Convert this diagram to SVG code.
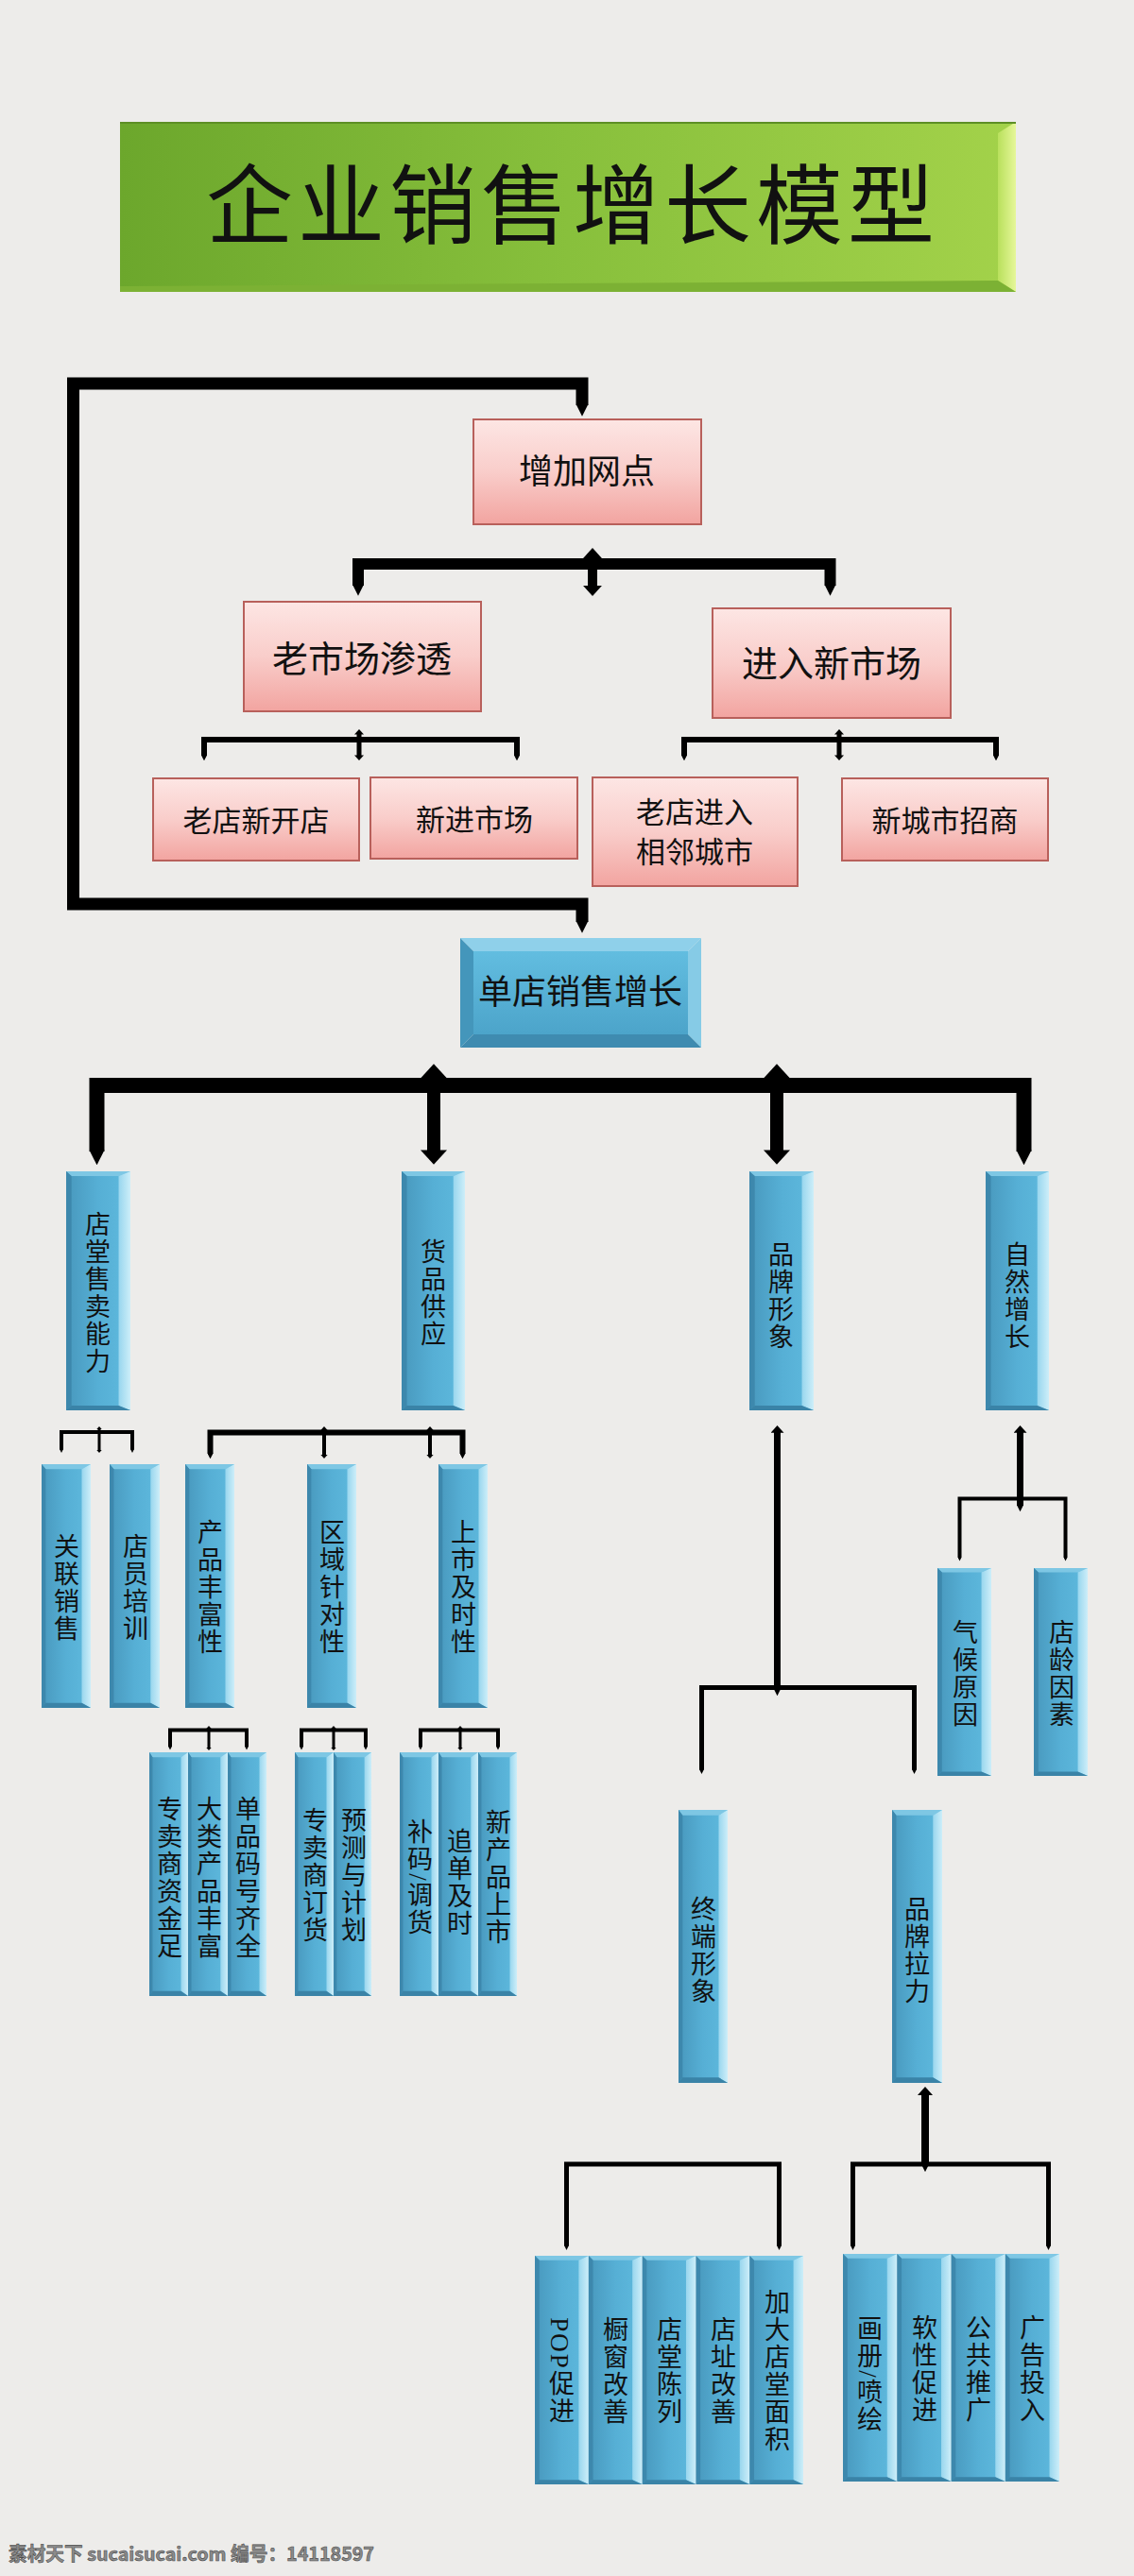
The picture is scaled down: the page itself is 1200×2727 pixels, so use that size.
<svg xmlns="http://www.w3.org/2000/svg" xmlns:xlink="http://www.w3.org/1999/xlink" width="1200" height="2727" viewBox="0 0 1200 2727">
<defs>
<style>
.t{font-family:"Liberation Serif","Noto Sans CJK SC",serif;fill:#111;text-anchor:middle;dominant-baseline:central}
.h{font-size:31px}
.v{font-family:"Liberation Serif","Noto Sans CJK SC",serif;fill:#111;font-size:27px;letter-spacing:2px;writing-mode:vertical-rl;text-anchor:middle}
.pk{fill:url(#pinkG);stroke:#b8605b;stroke-width:2}
.c{fill:none;stroke:#000;stroke-linejoin:miter}
</style>
<linearGradient id="pinkG" x1="0" y1="0" x2="0" y2="1">
<stop offset="0" stop-color="#fde6e4"/><stop offset="0.5" stop-color="#f9cdca"/><stop offset="1" stop-color="#f2a4a0"/>
</linearGradient>
<linearGradient id="greenG" x1="0" y1="0" x2="1" y2="0">
<stop offset="0" stop-color="#6ca72c"/><stop offset="0.5" stop-color="#88c03c"/><stop offset="1" stop-color="#a3d24a"/>
</linearGradient>
<linearGradient id="greenR" x1="0" y1="0" x2="1" y2="0">
<stop offset="0" stop-color="#b9e05c"/><stop offset="1" stop-color="#e6f79a"/>
</linearGradient>
<linearGradient id="bFace" x1="0" y1="0" x2="1" y2="0">
<stop offset="0" stop-color="#4898bd"/><stop offset="0.5" stop-color="#56afd5"/><stop offset="1" stop-color="#5fbade"/>
</linearGradient>
<linearGradient id="bRight" x1="0" y1="0" x2="1" y2="0">
<stop offset="0" stop-color="#98d6ee"/><stop offset="1" stop-color="#cdeef9"/>
</linearGradient>
<linearGradient id="bWide" x1="0" y1="0" x2="0" y2="1">
<stop offset="0" stop-color="#62bde0"/><stop offset="1" stop-color="#4ca4ca"/>
</linearGradient>
<symbol id="bcol" viewBox="0 0 60 250" preserveAspectRatio="none">
<rect width="60" height="250" fill="url(#bFace)"/>
<polygon points="0,0 60,0 49,5 5,5" fill="#7ec7e4"/>
<polygon points="0,0 5,5 5,245 0,250" fill="#3d88ad"/>
<polygon points="49,5 60,0 60,250 49,245" fill="url(#bRight)"/>
<polygon points="0,250 5,245 49,245 60,250" fill="#3a83a7"/>
</symbol>
<marker id="tp" viewBox="0 0 10 10" refX="1" refY="5" markerWidth="1" markerHeight="1" orient="auto-start-reverse" markerUnits="strokeWidth">
<path d="M0,0 L10,5 L0,10 z" fill="#000"/>
</marker>
<marker id="ah" viewBox="0 0 10 10" refX="1" refY="5" markerWidth="1.1" markerHeight="2" orient="auto-start-reverse" markerUnits="strokeWidth" preserveAspectRatio="none">
<path d="M0,0 L10,5 L0,10 z" fill="#000"/>
</marker>
</defs>
<rect width="1200" height="2727" fill="#edecea"/>

<g id="title">
<rect x="127" y="129" width="948" height="180" fill="url(#greenG)"/>
<polygon points="1056,141 1075,129 1075,309 1056,297" fill="url(#greenR)"/>
<polygon points="127,303 1056,297 1075,309 127,309" fill="#7cb134"/>
<rect x="127" y="129" width="948" height="2" fill="#5d8f25"/>
<text class="t" x="606" y="220" font-size="92" letter-spacing="5" fill="#000">企业销售增长模型</text>
</g>

<g id="connectors">
<path class="c" d="M616,429 V406 H77.5 V957 H616 V976" stroke-width="13" marker-start="url(#tp)" marker-end="url(#tp)"/>
<path class="c" d="M379,620 V597 H878.5 V620" stroke-width="12" marker-start="url(#tp)" marker-end="url(#tp)"/>
<path class="c" d="M627,590 V621" stroke-width="10" marker-start="url(#ah)" marker-end="url(#ah)"/>
<path class="c" d="M216,800 V783 H547 V800" stroke-width="6" marker-start="url(#tp)" marker-end="url(#tp)"/>
<path class="c" d="M380,777 V800" stroke-width="5" marker-start="url(#ah)" marker-end="url(#ah)"/>
<path class="c" d="M724,800 V783 H1054 V800" stroke-width="6" marker-start="url(#tp)" marker-end="url(#tp)"/>
<path class="c" d="M888,777 V800" stroke-width="5" marker-start="url(#ah)" marker-end="url(#ah)"/>
<path class="c" d="M102.5,1219 V1149 H1083.5 V1219" stroke-width="16" marker-start="url(#tp)" marker-end="url(#tp)"/>
<path class="c" d="M459,1140 V1219" stroke-width="14" marker-start="url(#ah)" marker-end="url(#ah)"/>
<path class="c" d="M822,1140 V1219" stroke-width="14" marker-start="url(#ah)" marker-end="url(#ah)"/>
<path class="c" d="M65,1534.4 V1516 H140 V1534.4" stroke-width="4" marker-start="url(#tp)" marker-end="url(#tp)"/>
<path class="c" d="M105,1513 V1535" stroke-width="3" marker-start="url(#ah)" marker-end="url(#ah)"/>
<path class="c" d="M222.5,1539 V1516.5 H489.5 V1539" stroke-width="6" marker-start="url(#tp)" marker-end="url(#tp)"/>
<path class="c" d="M343,1514 V1540" stroke-width="4" marker-start="url(#ah)" marker-end="url(#ah)"/>
<path class="c" d="M455,1514 V1540" stroke-width="4" marker-start="url(#ah)" marker-end="url(#ah)"/>
<path class="c" d="M822.5,1516 V1789" stroke-width="7" marker-start="url(#ah)" marker-end="url(#tp)"/>
<path class="c" d="M742.5,1873.5 V1786.5 H967.5 V1873.5" stroke-width="5" marker-start="url(#tp)" marker-end="url(#tp)"/>
<path class="c" d="M1079.5,1516 V1594" stroke-width="7" marker-start="url(#ah)" marker-end="url(#tp)"/>
<path class="c" d="M1015.5,1649 V1586.5 H1127.5 V1649" stroke-width="4" marker-start="url(#tp)" marker-end="url(#tp)"/>
<path class="c" d="M180,1849 V1831.5 H261 V1849" stroke-width="4" marker-start="url(#tp)" marker-end="url(#tp)"/>
<path class="c" d="M221,1830 V1850" stroke-width="3" marker-start="url(#ah)" marker-end="url(#ah)"/>
<path class="c" d="M319,1849 V1831.5 H387 V1849" stroke-width="4" marker-start="url(#tp)" marker-end="url(#tp)"/>
<path class="c" d="M353,1830 V1850" stroke-width="3" marker-start="url(#ah)" marker-end="url(#ah)"/>
<path class="c" d="M445,1849 V1831.5 H527 V1849" stroke-width="4" marker-start="url(#tp)" marker-end="url(#tp)"/>
<path class="c" d="M487,1830 V1850" stroke-width="3" marker-start="url(#ah)" marker-end="url(#ah)"/>
<path class="c" d="M599.5,2377.5 V2291 H824.5 V2377.5" stroke-width="5" marker-start="url(#tp)" marker-end="url(#tp)"/>
<path class="c" d="M902.5,2377.5 V2291 H1109.5 V2377.5" stroke-width="5" marker-start="url(#tp)" marker-end="url(#tp)"/>
<path class="c" d="M979,2217 V2292" stroke-width="8" marker-start="url(#ah)" marker-end="url(#tp)"/>
</g>

<g id="n-zengjiawangdian"><rect class="pk" x="501" y="444" width="241" height="111"/><text class="t" x="621" y="500" font-size="36">增加网点</text></g>
<g id="n-laoshichang"><rect class="pk" x="258" y="637" width="251" height="116"/><text class="t" x="383" y="698" font-size="38">老市场渗透</text></g>
<g id="n-jinruxinshichang"><rect class="pk" x="754" y="644" width="252" height="116"/><text class="t" x="880" y="703" font-size="38">进入新市场</text></g>
<g id="n-laodianxinkai"><rect class="pk" x="162" y="824" width="218" height="87"/><text class="t h" x="271" y="869">老店新开店</text></g>
<g id="n-xinjinshichang"><rect class="pk" x="392" y="823" width="219" height="86"/><text class="t h" x="502" y="868">新进市场</text></g>
<g id="n-laodianjinru"><rect class="pk" x="627" y="823" width="217" height="115"/><text class="t h" x="735" y="860">老店进入</text><text class="t h" x="735" y="902">相邻城市</text></g>
<g id="n-xinchengshi"><rect class="pk" x="891" y="824" width="218" height="87"/><text class="t h" x="1000" y="869">新城市招商</text></g>

<g id="n-dandian">
<rect x="501" y="1007" width="227" height="88" fill="url(#bWide)"/>
<polygon points="487,993 742,993 728,1007 501,1007" fill="#8fd0ea"/>
<polygon points="487,993 501,1007 501,1095 487,1109" fill="#4496bb"/>
<polygon points="742,993 742,1109 728,1095 728,1007" fill="#86cbe6"/>
<polygon points="487,1109 501,1095 728,1095 742,1109" fill="#3f8bb0"/>
<text class="t" x="614" y="1051" font-size="36">单店销售增长</text>
</g>

<g id="n-diantang"><use xlink:href="#bcol" x="70" y="1240" width="68" height="253"/><text class="v" x="101" y="1369">店堂售卖能力</text></g>
<g id="n-huopin"><use xlink:href="#bcol" x="425" y="1240" width="67" height="253"/><text class="v" x="456" y="1369">货品供应</text></g>
<g id="n-pinpaixingxiang"><use xlink:href="#bcol" x="793" y="1240" width="68" height="253"/><text class="v" x="824" y="1372">品牌形象</text></g>
<g id="n-ziran"><use xlink:href="#bcol" x="1043" y="1240" width="67" height="253"/><text class="v" x="1074" y="1372">自然增长</text></g>

<g id="n-guanlian"><use xlink:href="#bcol" x="44" y="1550" width="52" height="258"/><text class="v" x="68" y="1681">关联销售</text></g>
<g id="n-dianyuan"><use xlink:href="#bcol" x="116" y="1550" width="53" height="258"/><text class="v" x="141" y="1681">店员培训</text></g>
<g id="n-chanpin"><use xlink:href="#bcol" x="196" y="1550" width="52" height="258"/><text class="v" x="220" y="1681">产品丰富性</text></g>
<g id="n-quyu"><use xlink:href="#bcol" x="325" y="1550" width="52" height="258"/><text class="v" x="349" y="1681">区域针对性</text></g>
<g id="n-shangshi"><use xlink:href="#bcol" x="464" y="1550" width="52" height="258"/><text class="v" x="488" y="1681">上市及时性</text></g>

<g id="n-qihou"><use xlink:href="#bcol" x="992" y="1660" width="57" height="220"/><text class="v" x="1019" y="1772">气候原因</text></g>
<g id="n-dianling"><use xlink:href="#bcol" x="1094" y="1660" width="57" height="220"/><text class="v" x="1121" y="1772">店龄因素</text></g>

<g id="n-zhuanmaishang"><use xlink:href="#bcol" x="158" y="1855" width="41" height="258"/><text class="v" x="177" y="1988">专卖商资金足</text></g>
<g id="n-daleichanpin"><use xlink:href="#bcol" x="199" y="1855" width="42" height="258"/><text class="v" x="219" y="1988">大类产品丰富</text></g>
<g id="n-danpin"><use xlink:href="#bcol" x="241" y="1855" width="41" height="258"/><text class="v" x="260" y="1988">单品码号齐全</text></g>
<g id="n-dinghuo"><use xlink:href="#bcol" x="312" y="1855" width="41" height="258"/><text class="v" x="331" y="1986">专卖商订货</text></g>
<g id="n-yuce"><use xlink:href="#bcol" x="353" y="1855" width="40" height="258"/><text class="v" x="372" y="1986">预测与计划</text></g>
<g id="n-buma"><use xlink:href="#bcol" x="423" y="1855" width="41" height="258"/><text class="v" x="442" y="1988">补码/调货</text></g>
<g id="n-zhuidan"><use xlink:href="#bcol" x="464" y="1855" width="42" height="258"/><text class="v" x="484" y="1993">追单及时</text></g>
<g id="n-xinchanpin"><use xlink:href="#bcol" x="506" y="1855" width="41" height="258"/><text class="v" x="525" y="1988">新产品上市</text></g>

<g id="n-zhongduan"><use xlink:href="#bcol" x="718" y="1916" width="52" height="289"/><text class="v" x="742" y="2065">终端形象</text></g>
<g id="n-pinpailali"><use xlink:href="#bcol" x="944" y="1916" width="53" height="289"/><text class="v" x="968" y="2065">品牌拉力</text></g>

<g id="n-pop"><use xlink:href="#bcol" x="566" y="2388" width="56.8" height="242"/><text class="v" x="592" y="2510">POP促进</text></g>
<g id="n-chuchuang"><use xlink:href="#bcol" x="622.8" y="2388" width="56.8" height="242"/><text class="v" x="649" y="2510">橱窗改善</text></g>
<g id="n-chenlie"><use xlink:href="#bcol" x="679.6" y="2388" width="56.8" height="242"/><text class="v" x="706" y="2510">店堂陈列</text></g>
<g id="n-dianzhi"><use xlink:href="#bcol" x="736.4" y="2388" width="56.8" height="242"/><text class="v" x="763" y="2510">店址改善</text></g>
<g id="n-jiada"><use xlink:href="#bcol" x="793.2" y="2388" width="56.8" height="242"/><text class="v" x="820" y="2510">加大店堂面积</text></g>

<g id="n-huace"><use xlink:href="#bcol" x="892" y="2386" width="57.25" height="241"/><text class="v" x="918" y="2514">画册/喷绘</text></g>
<g id="n-ruanxing"><use xlink:href="#bcol" x="949.25" y="2386" width="57.25" height="241"/><text class="v" x="976" y="2508">软性促进</text></g>
<g id="n-gonggong"><use xlink:href="#bcol" x="1006.5" y="2386" width="57.25" height="241"/><text class="v" x="1033" y="2508">公共推广</text></g>
<g id="n-guanggao"><use xlink:href="#bcol" x="1063.75" y="2386" width="57.25" height="241"/><text class="v" x="1090" y="2508">广告投入</text></g>

<text x="9" y="2711" font-family="'Noto Sans CJK SC','Noto Sans',sans-serif" font-weight="bold" font-size="20" fill="#8c8c8c" stroke="#4a4a4a" stroke-width="0.6" textLength="387" lengthAdjust="spacingAndGlyphs">素材天下 sucaisucai.com  编号：14118597</text>
</svg>
